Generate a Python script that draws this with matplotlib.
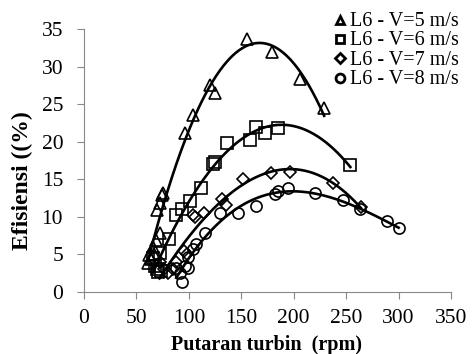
import numpy as np
import matplotlib
matplotlib.use("Agg")
import matplotlib.pyplot as plt

plt.rcParams['font.family'] = ['Liberation Serif', 'DejaVu Serif']

# data (rpm, efisiensi %)
x5 = [61, 62, 64, 66, 67, 69, 70, 72, 72, 74, 75, 96, 104, 120, 125, 155, 179, 206, 229]
y5 = [3.9, 4.9, 4.4, 6.0, 5.0, 6.9, 10.9, 7.8, 11.9, 12.9, 13.2, 21.2, 23.5, 27.5, 26.5, 33.7, 32.0, 28.3, 24.5]

x6 = [66, 68, 70, 71, 72, 73, 81, 88, 93, 101, 112, 123, 125, 136, 158, 164, 173, 185, 254]
y6 = [4.5, 3.5, 3.0, 2.7, 5.2, 2.8, 7.0, 10.2, 11.1, 12.1, 13.8, 17.1, 17.3, 19.8, 20.2, 22.0, 21.2, 21.8, 16.9]

x7 = [72, 76, 80, 85, 88, 95, 98, 104, 106, 114, 132, 135, 152, 178, 196, 237, 264]
y7 = [4.0, 3.0, 2.5, 3.0, 4.0, 5.5, 5.0, 10.3, 10.0, 10.5, 12.4, 11.6, 15.0, 15.9, 16.0, 14.5, 11.3]

x8 = [88, 92, 93, 96, 99, 99, 104, 107, 115, 130, 147, 164, 182, 185, 195, 220, 247, 263, 289, 300]
y8 = [3.2, 2.5, 1.3, 3.5, 3.2, 4.7, 5.7, 6.4, 7.9, 10.5, 10.5, 11.4, 13.0, 13.5, 13.8, 13.2, 12.2, 11.0, 9.4, 8.5]

labels = ['L6 - V=5 m/s', 'L6 - V=6 m/s', 'L6 - V=7 m/s', 'L6 - V=8 m/s']
markers = ['^', 's', 'D', 'o']
sizes = [8, 8, 6, 8]
orde = [2, 2, 3, 3]  # orde polinom trendline

fig = plt.figure(figsize=(4.73, 3.54), dpi=100)
ax = fig.add_axes([0.1776, 0.1751, 0.7759, 0.7429])

series = [(x5, y5), (x6, y6), (x7, y7), (x8, y8)]
handles = []
for (xs, ys), m, ms, deg, lab in zip(series, markers, sizes, orde, labels):
    xs = np.array(xs, dtype=float)
    ys = np.array(ys, dtype=float)
    c = np.polyfit(xs, ys, deg)
    xx = np.linspace(xs.min(), xs.max(), 200)
    ax.plot(xx, np.polyval(c, xx), color='black', lw=1.9, zorder=2)
    h, = ax.plot(xs, ys, ls='none', marker=m, ms=ms, mfc='none', mec='black', mew=1.2, zorder=3, label=lab)
    handles.append(h)

ax.set_xlim(0, 350)
ax.set_ylim(0, 35)
ax.set_xticks(np.arange(0, 351, 50))
ax.set_yticks(np.arange(0, 36, 5))
for s in ['top', 'right']:
    ax.spines[s].set_visible(False)
for s in ['left', 'bottom']:
    ax.spines[s].set_color('#888888')
ax.tick_params(direction='out', length=5, color='#888888', labelsize=15.5)
ax.tick_params(axis='y', pad=10)
ax.tick_params(axis='x', pad=7)

ax.set_xlabel('Putaran turbin  (rpm)', fontsize=14.5, fontweight='bold')
ax.set_ylabel('Efisiensi ((%)', fontsize=17, fontweight='bold')
ax.xaxis.set_label_coords(0.497, -0.163)
ax.yaxis.set_label_coords(-0.139, 0.422)

leg = fig.legend(handles=handles, loc='upper left', bbox_to_anchor=(335 / 473, 1 - 12 / 354),
                 frameon=False, fontsize=14.5, handlelength=0.5, handletextpad=0.25,
                 labelspacing=0.02, handleheight=0.5, markerscale=0.8, borderpad=0, borderaxespad=0)
for h in leg.legend_handles:
    h.set_markeredgewidth(2)

fig.savefig('out.png', dpi=100)
